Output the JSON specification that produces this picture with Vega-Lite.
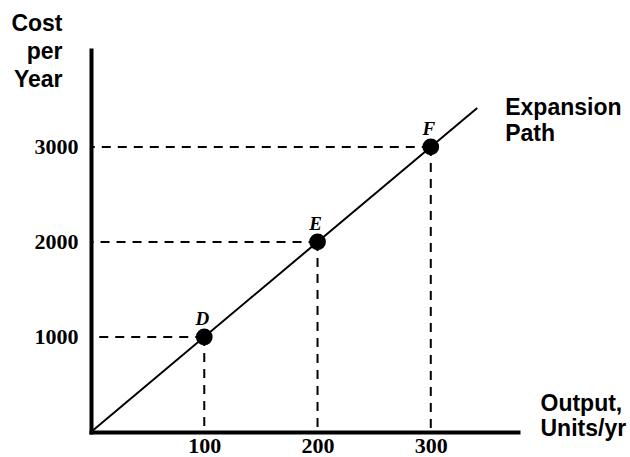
{
  "$schema": "https://vega.github.io/schema/vega-lite/v6.json",
  "width": 427,
  "height": 382,
  "autosize": {"type": "none"},
  "padding": {"left": 91, "top": 50, "right": 112, "bottom": 25},
  "background": "white",
  "config": {"view": {"stroke": null}},
  "datasets": {
    "points": [
      {"output": 100, "cost": 1000, "label": "D"},
      {"output": 200, "cost": 2000, "label": "E"},
      {"output": 300, "cost": 3000, "label": "F"}
    ],
    "path": [
      {"output": 0, "cost": 0},
      {"output": 341, "cost": 3410}
    ]
  },
  "layer": [
    {
      "data": {"name": "points"},
      "mark": {"type": "rule", "strokeDash": [9, 7], "strokeWidth": 2, "color": "black"},
      "encoding": {
        "x": {
          "field": "output", "type": "quantitative",
          "scale": {"domain": [0, 377], "nice": false},
          "axis": {
            "values": [100, 200, 300], "format": "d", "grid": false, "ticks": false, "tickSize": 0,
            "domainWidth": 4, "domainColor": "black", "domainCap": "square",
            "labelFont": "Liberation Serif", "labelFontWeight": "bold", "labelFontSize": 22,
            "labelColor": "black", "labelPadding": 3,
            "title": ["Output,", "Units/yr"],
            "titleFont": "Liberation Sans", "titleFontWeight": "bold", "titleFontSize": 23,
            "titleColor": "black", "titleAlign": "left", "titleAnchor": null,
            "titleBaseline": "alphabetic", "titleX": 449, "titleY": -22, "titleLineHeight": 25
          }
        },
        "x2": {"datum": 0},
        "y": {
          "field": "cost", "type": "quantitative",
          "scale": {"domain": [0, 4020], "nice": false},
          "axis": {
            "values": [1000, 2000, 3000], "format": "d", "grid": false, "ticks": false, "tickSize": 0,
            "domainWidth": 4, "domainColor": "black", "domainCap": "square",
            "labelFont": "Liberation Serif", "labelFontWeight": "bold", "labelFontSize": 22,
            "labelColor": "black", "labelPadding": 13,
            "title": ["Cost", "per", "Year"],
            "titleFont": "Liberation Sans", "titleFontWeight": "bold", "titleFontSize": 23,
            "titleColor": "black", "titleAngle": 0, "titleAlign": "right", "titleAnchor": null,
            "titleBaseline": "alphabetic", "titleX": -29, "titleY": -20, "titleLineHeight": 28
          }
        }
      }
    },
    {
      "data": {"name": "points"},
      "mark": {"type": "rule", "strokeDash": [9, 7], "strokeWidth": 2, "color": "black"},
      "encoding": {
        "x": {"field": "output", "type": "quantitative"},
        "y": {"field": "cost", "type": "quantitative"},
        "y2": {"datum": 0}
      }
    },
    {
      "data": {"name": "path"},
      "mark": {"type": "line", "color": "black", "strokeWidth": 2},
      "encoding": {
        "x": {"field": "output", "type": "quantitative"},
        "y": {"field": "cost", "type": "quantitative"}
      }
    },
    {
      "data": {"name": "points"},
      "mark": {"type": "point", "filled": true, "color": "black", "size": 280, "opacity": 1},
      "encoding": {
        "x": {"field": "output", "type": "quantitative"},
        "y": {"field": "cost", "type": "quantitative"}
      }
    },
    {
      "data": {"name": "points"},
      "mark": {"type": "text", "font": "Liberation Serif", "fontWeight": "bold", "fontStyle": "italic", "fontSize": 19, "baseline": "alphabetic", "align": "center", "dy": -12, "dx": -2, "color": "black"},
      "encoding": {
        "x": {"field": "output", "type": "quantitative"},
        "y": {"field": "cost", "type": "quantitative"},
        "text": {"field": "label"}
      }
    },
    {
      "data": {"values": [{"output": 341, "cost": 3410, "note": ["Expansion", "Path"]}]},
      "mark": {"type": "text", "font": "Liberation Sans", "fontWeight": "bold", "fontSize": 23, "baseline": "alphabetic", "align": "left", "dx": 28, "dy": 7, "lineHeight": 26, "color": "black"},
      "encoding": {
        "x": {"field": "output", "type": "quantitative"},
        "y": {"field": "cost", "type": "quantitative"},
        "text": {"field": "note"}
      }
    }
  ]
}
